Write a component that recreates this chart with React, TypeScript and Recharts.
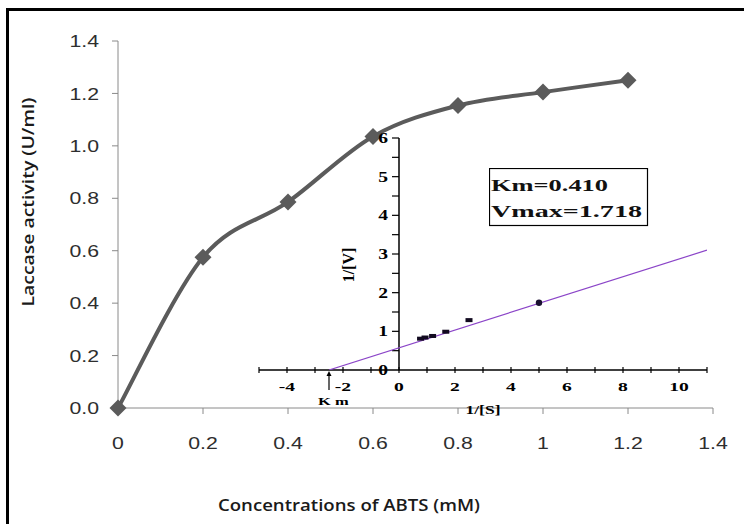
import React from 'react';
import {
  LineChart, Line, XAxis, YAxis, ComposedChart, Scatter, ReferenceLine, ReferenceDot,
} from 'recharts';

// main curve: ABTS concentration (mM) vs laccase activity (U/ml)
const abtsConc = [0, 0.2, 0.4, 0.6, 0.8, 1.0, 1.2];
const laccaseActivity = [0, 0.575, 0.786, 1.036, 1.154, 1.205, 1.25];
const mainXTicks = [0, 0.2, 0.4, 0.6, 0.8, 1, 1.2, 1.4];
const mainYTicks = [0, 0.2, 0.4, 0.6, 0.8, 1.0, 1.2, 1.4];

// Lineweaver-Burk inset (1/[S] vs 1/[V])
const invSubstrate = [0.77, 0.93, 1.2, 1.67, 2.5, 5];
const invVelocity = [0.81, 0.84, 0.88, 0.99, 1.29, 1.74];
const fitInvS = [-2.5, 11];
const fitInvV = [0, 3.1];
const insetXTicks = [-5, -4, -3, -2, -1, 0, 1, 2, 3, 4, 5, 6, 7, 8, 9, 10, 11];
const insetXLabels = [-4, -2, 0, 2, 4, 6, 8, 10];
const insetYTicks = [0.5, 1, 1.5, 2, 2.5, 3, 3.5, 4, 4.5, 5, 5.5, 6];
const insetYLabels = [0, 1, 2, 3, 4, 5, 6];
const kmIntercept = -2.5;
const kineticText = ['Km=0.410', 'Vmax=1.718'];

const mainData = abtsConc.map((c, i) => ({ conc: c, activity: laccaseActivity[i] }));
const lbData = invSubstrate.map((s, i) => ({ x: s, y: invVelocity[i] }));
const fitData = fitInvS.map((s, i) => ({ x: s, y: fitInvV[i] }));

const SANS = 'Liberation Sans, Arial, sans-serif';
const SERIF = 'Liberation Serif, Times New Roman, serif';
const LINE_GREY = '#5b5b5b';
const AXIS_GREY = '#8a8a8a';

// spreadsheet-style smoothed line (Catmull-Rom as bezier segments)
const smoothCurve = (context: any) => {
  let pts: number[][] = [];
  return {
    areaStart() {},
    areaEnd() {},
    lineStart() { pts = []; },
    point(x: number, y: number) { pts.push([x, y]); },
    lineEnd() {
      if (!pts.length) return;
      context.moveTo(pts[0][0], pts[0][1]);
      for (let i = 0; i < pts.length - 1; i++) {
        const p0 = pts[Math.max(i - 1, 0)];
        const p1 = pts[i];
        const p2 = pts[i + 1];
        const p3 = pts[Math.min(i + 2, pts.length - 1)];
        context.bezierCurveTo(
          p1[0] + (p2[0] - p0[0]) / 6, p1[1] + (p2[1] - p0[1]) / 6,
          p2[0] - (p3[0] - p1[0]) / 6, p2[1] - (p3[1] - p1[1]) / 6,
          p2[0], p2[1],
        );
      }
    },
  };
};

const MainXTick = (props: any) => {
  const { x, y, payload } = props;
  return (
    <text transform={`translate(${x},${y}) scale(1.25,1)`} textAnchor="middle" dy="0.71em"
      fontFamily={SANS} fontSize={17} fill="#2e2e2e">{payload.value}</text>
  );
};

const MainYTick = (props: any) => {
  const { x, y, payload } = props;
  return (
    <text transform={`translate(${x},${y}) scale(1.25,1)`} textAnchor="end" dy="0.36em"
      fontFamily={SANS} fontSize={17} fill="#2e2e2e">{Number(payload.value).toFixed(1)}</text>
  );
};

const renderDiamond = (props: any) => {
  const { cx, cy, index } = props;
  if (cx == null || cy == null) return <g key={index} />;
  const r = 8.5;
  return (
    <polygon key={index} points={`${cx},${cy - r} ${cx + r},${cy} ${cx},${cy + r} ${cx - r},${cy}`} fill={LINE_GREY} />
  );
};

const InsetXTick = (props: any) => {
  const { x, y, payload } = props;
  const v = payload.value;
  return (
    <g>
      <line x1={x} x2={x} y1={y - 3} y2={y + 3} stroke="#000" strokeWidth={1.2} />
      {insetXLabels.includes(v) && (
        <text transform={`translate(${x},${y + 21}) scale(1.45,1)`} textAnchor="middle"
          fontFamily={SERIF} fontWeight="bold" fontSize={13.5} fill="#000">{v}</text>
      )}
    </g>
  );
};

const renderInsetPoint = (props: any) => {
  const { cx, cy, payload } = props;
  if (payload && payload.x === invSubstrate[invSubstrate.length - 1]) {
    return <circle cx={cx} cy={cy} r={3.2} fill="#1a1030" />;
  }
  return <rect x={cx - 3.5} y={cy - 2} width={7} height={4} fill="#120a20" />;
};

const noMarker = () => <g />;

export default function App() {
  return (
    <div style={{ position: 'absolute', left: 0, top: 0, width: 744, height: 524, background: '#fff', overflow: 'hidden' }}>
      <div style={{
        position: 'absolute', left: 6, top: 8, width: 800, height: 600,
        borderTop: '3px solid #000', borderLeft: '3px solid #000',
      }} />

      <div style={{ position: 'absolute', left: 0, top: 0 }}>
        <LineChart width={744} height={524} data={mainData} margin={{ top: 41, right: 31, left: 58, bottom: 86 }}>
          <XAxis dataKey="conc" type="number" domain={[0, 1.4]} ticks={mainXTicks} interval={0}
            stroke={AXIS_GREY} tickSize={6} tickMargin={23} height={30} tick={<MainXTick />}
            label={(p: any) => (
              <text x={p.viewBox.x + 231} y={p.viewBox.y + 103} textAnchor="middle" textLength={262}
                lengthAdjust="spacingAndGlyphs" fontFamily="Open Sans, sans-serif" fontWeight={600}
                fontSize={16} fill="#1a1a1a">Concentrations of ABTS (mM)</text>
            )} />
          <YAxis type="number" domain={[0, 1.4]} ticks={mainYTicks} interval={0} width={60}
            stroke={AXIS_GREY} tickSize={6} tickMargin={13} tick={<MainYTick />}
            label={(p: any) => (
              <text transform={`translate(${p.viewBox.x - 24},202) rotate(-90)`} textAnchor="middle"
                textLength={209} lengthAdjust="spacingAndGlyphs" fontFamily="Open Sans, sans-serif"
                fontWeight={600} fontSize={16} fill="#1a1a1a">Laccase activity (U/ml)</text>
            )} />
          <Line dataKey="activity" type={smoothCurve as any} stroke={LINE_GREY} strokeWidth={4}
            dot={renderDiamond} activeDot={false} isAnimationActive={false} />
        </LineChart>
      </div>

      <div style={{ position: 'absolute', left: 229, top: 118 }}>
        <ComposedChart width={500} height={302} margin={{ top: 20, right: 22, left: 30, bottom: 0 }}>
          <XAxis dataKey="x" type="number" domain={[-5, 11]} ticks={insetXTicks} interval={0}
            allowDataOverflow axisLine={{ stroke: '#000', strokeWidth: 1.5 }} tickLine={false}
            tickSize={0} tickMargin={0} height={50} tick={<InsetXTick />}
            label={(p: any) => (
              <text transform={`translate(${p.viewBox.x + p.viewBox.width / 2},${p.viewBox.y + 44}) scale(1.35,1)`}
                textAnchor="middle" fontFamily={SERIF} fontWeight="bold" fontSize={13} fill="#000">1/[S]</text>
            )} />
          <YAxis dataKey="y" type="number" domain={[0, 6]} allowDataOverflow hide />
          <ReferenceLine x={0} stroke="#000" strokeWidth={1.5}
            label={(p: any) => (
              <text transform={`translate(${p.viewBox.x - 45},${p.viewBox.y + p.viewBox.height / 2 + 11}) rotate(-90)`}
                textAnchor="middle" fontFamily={SERIF} fontWeight="bold" fontSize={16} fill="#000">1/[V]</text>
            )} />
          {insetYTicks.map((v) => (
            <ReferenceLine key={`yt${v}`} segment={[{ x: -0.25, y: v }, { x: 0, y: v }]} stroke="#000" strokeWidth={1.2} />
          ))}
          {insetYLabels.map((v) => (
            <ReferenceDot key={`yl${v}`} x={0} y={v} r={0} fill="none" stroke="none"
              label={(p: any) => (
                <text transform={`translate(${p.viewBox.x - 11},${p.viewBox.y + 5}) scale(1.35,1)`}
                  textAnchor="end" fontFamily={SERIF} fontWeight="bold" fontSize={14.5} fill="#000">{v}</text>
              )} />
          ))}
          <Scatter data={fitData} line={{ stroke: '#8b45c8', strokeWidth: 1.2 }} shape={noMarker}
            isAnimationActive={false} />
          <Scatter data={lbData} shape={renderInsetPoint} isAnimationActive={false} />
          <ReferenceDot x={kmIntercept} y={0} r={0} fill="none" stroke="none"
            label={(p: any) => {
              const x = p.viewBox.x;
              const y = p.viewBox.y;
              return (
                <g>
                  <line x1={x} x2={x} y1={y + 20} y2={y + 4} stroke="#000" strokeWidth={1.2} />
                  <polygon points={`${x},${y + 1} ${x - 2.5},${y + 6} ${x + 2.5},${y + 6}`} fill="#000" />
                  <text transform={`translate(${x - 11},${y + 35}) scale(1.5,1)`} fontFamily={SERIF}
                    fontWeight="bold" fontSize={11} fill="#000">K m</text>
                </g>
              );
            }} />
        </ComposedChart>
      </div>

      <svg style={{ position: 'absolute', left: 489, top: 168 }} width={160} height={59}>
        <rect x={0.5} y={0.5} width={158} height={57} fill="#fff" stroke="#000" strokeWidth={1.2} />
        <text x={2} y={23} textLength={117} lengthAdjust="spacingAndGlyphs" fontFamily={SERIF}
          fontWeight="bold" fontSize={17} fill="#111">{kineticText[0]}</text>
        <text x={2} y={49} textLength={151} lengthAdjust="spacingAndGlyphs" fontFamily={SERIF}
          fontWeight="bold" fontSize={17} fill="#111">{kineticText[1]}</text>
      </svg>
    </div>
  );
}
